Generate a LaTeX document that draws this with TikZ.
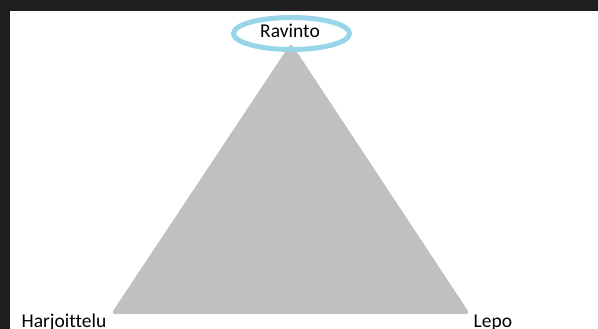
\documentclass[tikz,border=0pt]{standalone}
\usepackage{fontspec}
\setmainfont[Ligatures={NoCommon}]{Carlito}
\usetikzlibrary{shapes.geometric}
\definecolor{frame}{HTML}{1E1E1E}
\definecolor{tri}{HTML}{C0C0C0}
\definecolor{ring}{HTML}{98D5E8}
\tikzset{
  lbl/.style={inner sep=0pt, font=\fontsize{19.5}{22}\selectfont, text=black},
  ringnode/.style={ellipse, draw=ring, line width=5pt, minimum width=116pt, minimum height=32pt, inner sep=0pt}
}
\begin{document}
\begin{tikzpicture}[x=1pt,y=-1pt]
\useasboundingbox (0,0) rectangle (598,329);
\fill[white] (0,0) rectangle (598,329);
\fill[frame] (0,0) rectangle (598,11);
\fill[frame] (0,0) rectangle (10,329);
\fill[tri, rounded corners=4pt] (291,43) -- (470,314) -- (111,314) -- cycle;
\node[ringnode] (ring) at (291.5,33.5) {};
\node[lbl, anchor=base] (rav) at (290,37.5) {Ravinto};
\node[lbl, anchor=base west] (har) at (21.5,327) {Harjoittelu};
\node[lbl, anchor=base west] (lep) at (473.5,327.5) {Lepo};
\end{tikzpicture}
\end{document}
